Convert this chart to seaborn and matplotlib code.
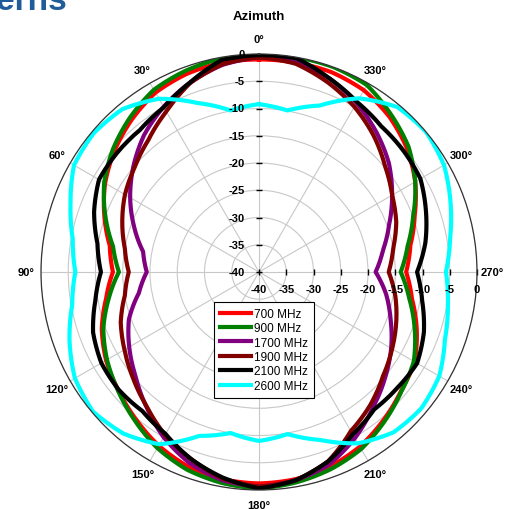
import numpy as np
import pandas as pd
import seaborn as sns
import matplotlib.pyplot as plt

# azimuth angles (deg, counter-clockwise from top) and gain per band (dB)
angles = list(range(0, 360, 10))
bands = ["700 MHz", "900 MHz", "1700 MHz", "1900 MHz", "2100 MHz", "2600 MHz"]
colors = ["#ff0000", "#008000", "#800080", "#800000", "#000000", "#00ffff"]

gain_700 = [-1.0, -1.0, -1.3, -2.0, -3.6, -5.4, -7.4, -9.8, -12.2, -13.2,
            -11.5, -9.3, -7.6, -6.3, -4.8, -3.2, -2.0, -1.4, -1.2, -1.4,
            -2.0, -3.0, -4.5, -6.0, -7.0, -9.2, -11.5, -13.0, -11.8, -9.6,
            -6.9, -4.6, -2.8, -1.5, -1.0, -1.0]
gain_900 = [0.0, -0.2, -0.7, -1.4, -3.1, -5.0, -7.2, -10.0, -12.8, -14.3,
            -12.0, -9.6, -7.8, -6.2, -4.5, -2.7, -1.4, -0.7, -0.3, -0.8,
            -1.5, -2.5, -4.2, -5.9, -7.2, -9.6, -12.0, -14.0, -12.3, -9.9,
            -6.9, -4.2, -2.3, -0.4, 0.0, 0.0]
gain_1700 = [-0.6, -1.4, -3.0, -5.0, -7.2, -9.9, -12.7, -15.6, -18.4, -19.4,
             -17.6, -14.6, -12.5, -10.4, -7.8, -5.0, -2.7, -1.2, -0.6, -1.2,
             -2.4, -4.8, -7.5, -9.8, -12.0, -14.3, -16.3, -18.6, -16.9, -14.6,
             -11.8, -8.9, -6.5, -4.2, -2.2, -0.9]
gain_1900 = [-0.6, -1.3, -3.1, -6.0, -8.4, -10.2, -11.6, -13.3, -15.0, -16.1,
             -15.0, -13.0, -11.5, -9.8, -7.9, -5.5, -3.5, -1.5, -0.6, -1.2,
             -3.0, -6.3, -8.2, -10.3, -11.8, -13.2, -14.6, -16.2, -15.0, -13.2,
             -11.8, -9.8, -7.3, -5.0, -3.0, -1.2]
gain_2100 = [-0.2, -0.5, -3.0, -5.1, -6.0, -6.0, -6.1, -7.8, -9.9, -11.0,
             -9.5, -7.6, -6.6, -6.4, -6.7, -5.7, -3.5, -1.7, -0.3, -1.2,
             -3.0, -5.6, -7.1, -6.9, -6.5, -7.8, -9.6, -11.0, -9.0, -7.4,
             -5.8, -5.4, -5.1, -4.0, -2.2, -0.2]
gain_2600 = [-9.2, -9.9, -7.0, -3.3, -1.0, -0.4, -0.8, -3.2, -5.3, -6.3,
             -5.2, -3.0, -1.0, -0.2, -1.3, -3.5, -8.0, -10.0, -9.0, -9.8,
             -7.2, -3.7, -1.6, -1.1, -1.8, -3.7, -4.8, -5.7, -4.4, -2.6,
             -0.8, 0.0, -0.5, -3.2, -7.5, -9.9]
gains = [gain_700, gain_900, gain_1700, gain_1900, gain_2100, gain_2600]

r_ticks = list(range(-40, 1, 5))
theta_ticks = list(range(0, 360, 30))

plt.rcParams["font.family"] = ["Liberation Sans", "DejaVu Sans"]

rows = []
for band, g in zip(bands, gains):
    # close each curve back at 360
    for a, v in zip(angles + [360], g + g[:1]):
        rows.append((band, np.deg2rad(a), v))
df = pd.DataFrame(rows, columns=["band", "theta", "gain"])

fig = plt.figure(figsize=(5.11, 5.10), dpi=100)
ax = fig.add_axes([41 / 511, 19 / 510, 436 / 511, 436 / 510], projection="polar")
ax.set_theta_zero_location("N")
ax.set_theta_direction(1)

sns.lineplot(data=df, x="theta", y="gain", hue="band", hue_order=bands,
             palette=colors, sort=False, estimator=None, linewidth=3,
             ax=ax, legend=False)
handles = list(ax.get_lines())
for ln in handles:
    # draw segments as arcs in polar space instead of chords
    ln.get_path()._interpolation_steps = 12
    ln.set_solid_joinstyle("round")

ax.set_xlabel("")
ax.set_ylabel("")
ax.set_thetalim(0, 2 * np.pi)
ax.set_ylim(-40, 0)

ax.set_xticks(np.deg2rad(theta_ticks))
ax.set_xticklabels([f"{a}°" for a in theta_ticks], fontsize=8, fontweight="bold")
ax.tick_params(axis="x", pad=0, length=4, color="#333333")
ax.set_yticks(r_ticks)
ax.set_yticklabels([])
ax.grid(color="#c8c8c8", linewidth=0.8)
ax.spines["polar"].set_color("#333333")
ax.spines["polar"].set_linewidth(0.9)

# radial labels on the 0 deg spoke and along the 270 deg spoke
for r in r_ticks:
    ax.annotate(f"{r}", xy=(0, r), xytext=(-10, 0), textcoords="offset points",
                ha="right", va="center", fontsize=8, fontweight="bold")
    ax.annotate(f"{r}", xy=(np.deg2rad(270), r), xytext=(0, -12),
                textcoords="offset points", ha="center", va="center",
                fontsize=8, fontweight="bold")
ax.plot([0] * len(r_ticks), r_ticks, ls="none", marker="_", ms=5,
        mew=1, color="black", clip_on=False)
ax.plot([np.deg2rad(270)] * len(r_ticks), r_ticks, ls="none", marker="|",
        ms=5, mew=1, color="black", clip_on=False)

leg = ax.legend(handles, bands, loc="upper left",
                bbox_to_anchor=(214 / 511, 1 - 303 / 510),
                bbox_transform=fig.transFigure, frameon=True, fancybox=False,
                edgecolor="black", framealpha=1, fontsize=8.5,
                handlelength=2.6, handletextpad=0.3, borderpad=0.5,
                labelspacing=0.2, borderaxespad=0)
leg.get_frame().set_linewidth(0.8)

fig.text(259 / 511, 1 - 17 / 510, "Azimuth", ha="center", va="center",
         fontsize=9.5, fontweight="bold")
fig.text(67 / 511, 1 - 10 / 510, "Patterns", ha="right", va="baseline",
         fontsize=24, fontweight="bold", color="#1f5c99")

fig.savefig("out.png", dpi=100)
